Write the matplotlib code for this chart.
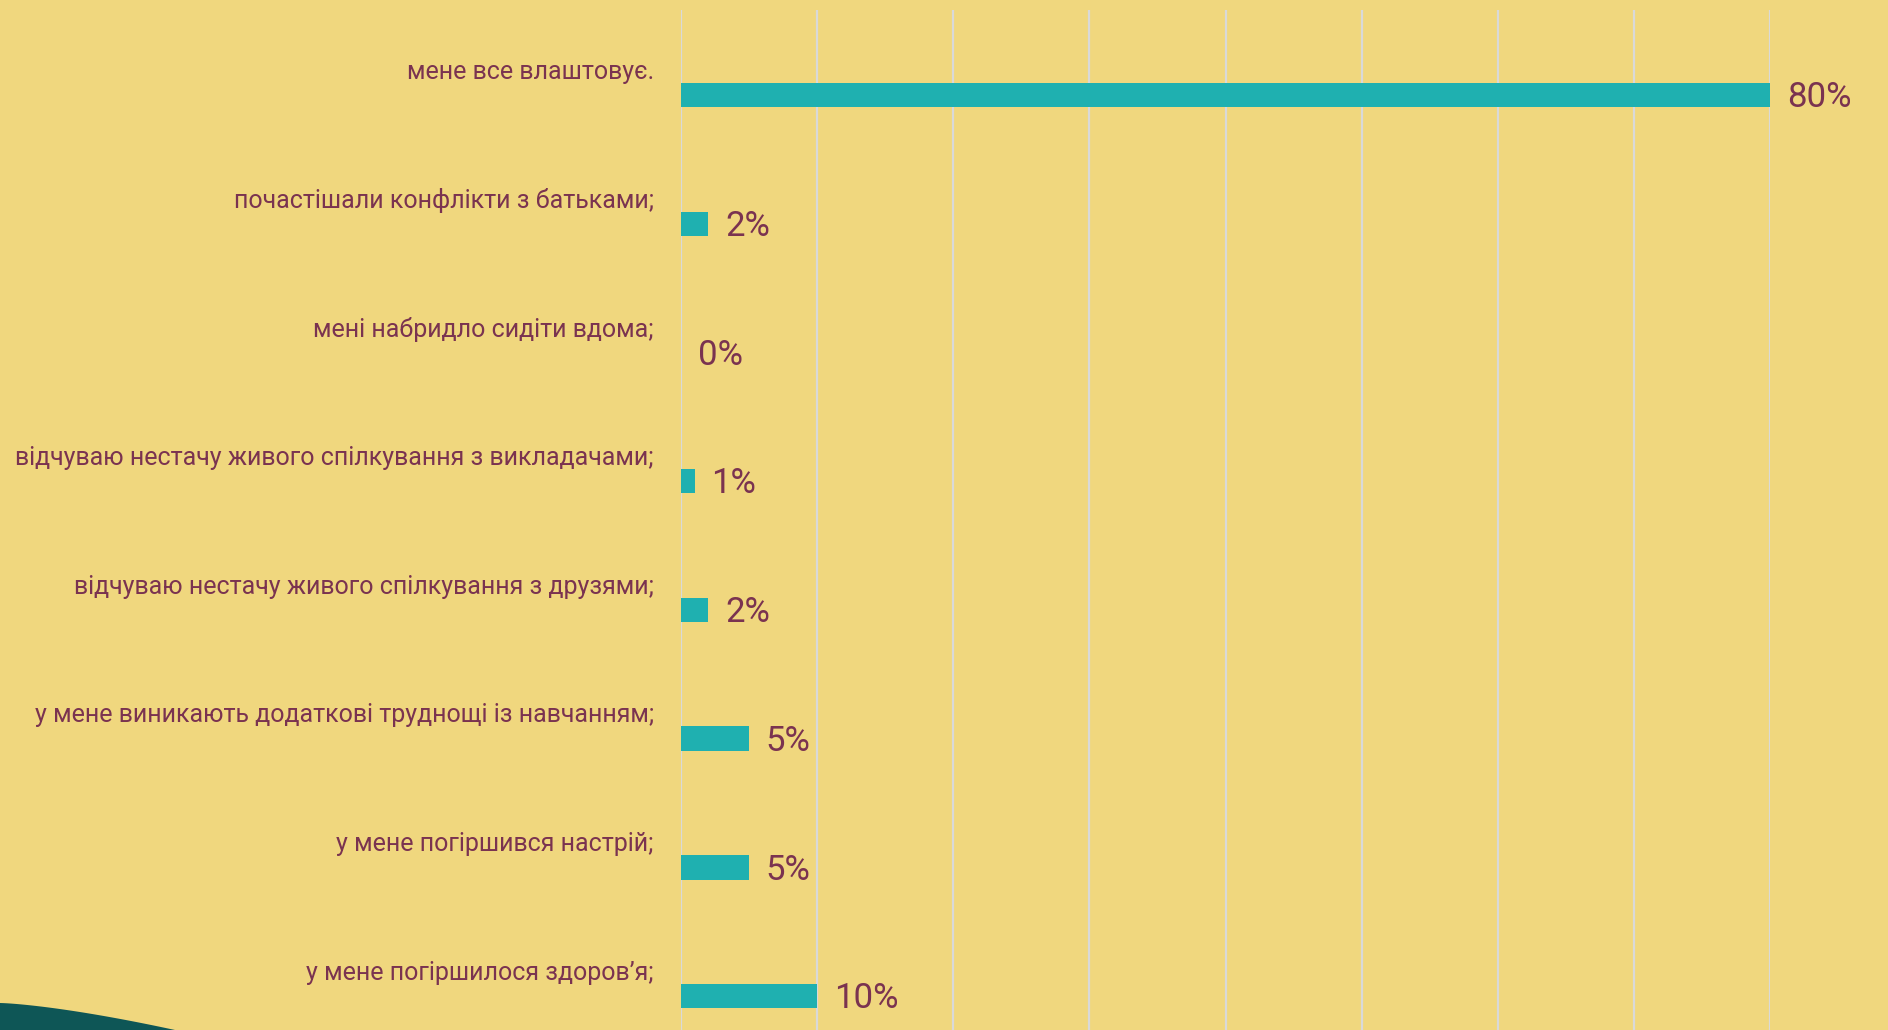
import matplotlib.pyplot as plt
from matplotlib.patches import Polygon
from matplotlib.transforms import blended_transform_factory
import numpy as np

plt.rcParams['font.family'] = ['Roboto', 'DejaVu Sans']

categories = [
    "мене все влаштовує.",
    "почастішали конфлікти з батьками;",
    "мені набридло сидіти вдома;",
    "відчуваю нестачу живого спілкування з викладачами;",
    "відчуваю нестачу живого спілкування з друзями;",
    "у мене виникають додаткові труднощі із навчанням;",
    "у мене погіршився настрій;",
    "у мене погіршилося здоров’я;",
]
values = [80, 2, 0, 1, 2, 5, 5, 10]

BG = '#F0D77E'
BAR = '#1FB0B0'
TEXT = '#7A3350'
GRID = '#D9D9D9'
WAVE = '#0E5656'

fig = plt.figure(figsize=(18.88, 10.30), dpi=100, facecolor=BG)
ax = fig.add_axes([681 / 1888, 0, 1089 / 1888, 1 - 10 / 1030])
ax.set_facecolor(BG)

y = np.arange(len(categories))
ax.barh(y, values, height=0.19, color=BAR, zorder=3)

ax.set_xlim(0, 80)
ax.set_ylim(7.264, -0.661)
ax.set_xticks(np.arange(0, 81, 10))
ax.grid(axis='x', color=GRID, linewidth=1.6, zorder=0)
ax.tick_params(left=False, bottom=False, labelleft=False, labelbottom=False)
for s in ax.spines.values():
    s.set_visible(False)

tr = blended_transform_factory(ax.transAxes, ax.transData)
for i, (c, v) in enumerate(zip(categories, values)):
    ax.text(-0.025, i - 0.18, c, transform=tr, ha='right', va='center',
            fontsize=18, color=TEXT)
    ax.annotate(f"{v}%", xy=(v, i), xytext=(12, -2), textcoords='offset points',
                ha='left', va='center', fontsize=25, color=TEXT)

# decorative wave bottom-left
t = np.linspace(0, 1, 50)
wx = t * 175
wy = 1003 + (1030 - 1003) * t ** 1.4
pts = [(0, 1030), (0, 1006)] + list(zip(wx, wy)) + [(175, 1030)]
pts = [(px / 1888, 1 - py / 1030) for px, py in pts]
fig.patches.append(Polygon(pts, closed=True, transform=fig.transFigure,
                           facecolor=WAVE, edgecolor='none', zorder=5))

fig.savefig('out.png', dpi=100, facecolor=BG)
